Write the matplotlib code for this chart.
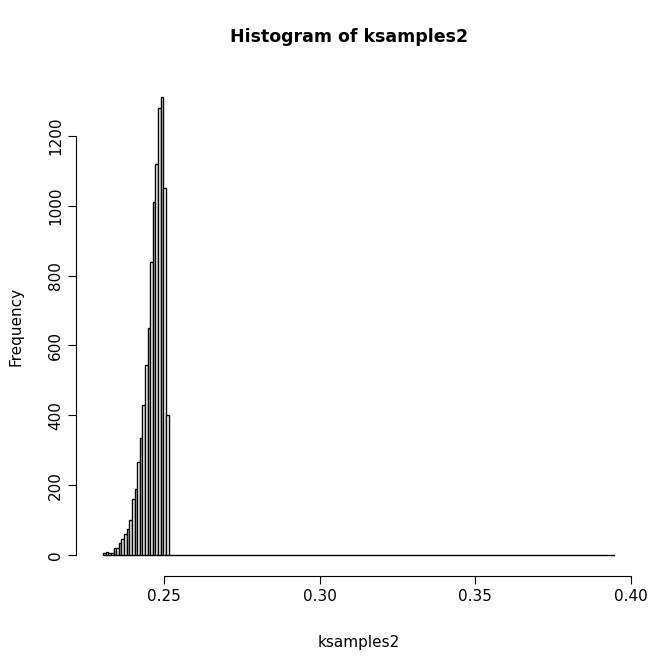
import numpy as np
import matplotlib.pyplot as plt

counts = [5, 10, 5, 5, 20, 20, 35, 45, 60, 75, 100, 160, 190, 265, 335,
          430, 545, 650, 840, 1010, 1120, 1280, 1310, 1050, 400]
bin_start = 0.2305
bin_width = 0.00084
x_end = 0.3945

edges = bin_start + bin_width * np.arange(len(counts) + 1)

fig = plt.figure(figsize=(6.72, 6.72), dpi=100)
ax = fig.add_axes([0.122, 0.147, 0.823, 0.735])
ax.bar(edges[:-1], counts, width=bin_width, align='edge',
       facecolor='white', edgecolor='black', linewidth=1)
ax.plot([edges[-1], x_end], [0, 0], color='black', lw=1)

ax.set_xlim(0.2237, 0.4013)
ax.set_ylim(-52, 1362)
for s in ['top', 'right']:
    ax.spines[s].set_visible(False)
ax.spines['bottom'].set_bounds(0.25, 0.40)
ax.spines['left'].set_bounds(0, 1200)
ax.spines['bottom'].set_position(('outward', 2))
ax.spines['left'].set_position(('outward', 4))
ax.set_xticks([0.25, 0.30, 0.35, 0.40])
ax.set_xticklabels(['0.25', '0.30', '0.35', '0.40'])
ax.set_yticks(range(0, 1201, 200))
ax.set_yticklabels([str(v) for v in range(0, 1201, 200)], rotation=90, va='center')
ax.tick_params(labelsize=11, length=6)
ax.set_xlabel('ksamples2', fontsize=11, labelpad=22)
ax.set_ylabel('Frequency', fontsize=11, labelpad=18)
fig.text(0.52, 0.937, 'Histogram of ksamples2', ha='center',
         fontsize=12.5, fontweight='bold')
fig.savefig('out.png')
